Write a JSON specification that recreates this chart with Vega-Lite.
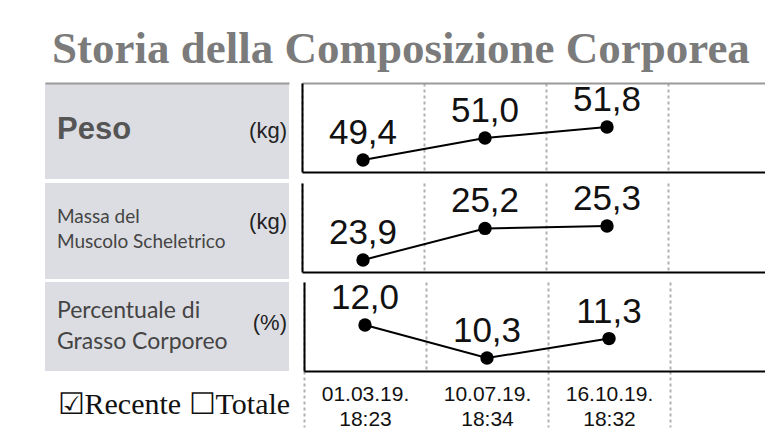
{
  "$schema": "https://vega.github.io/schema/vega-lite/v6.json",
  "padding": {"left": 45, "top": 26, "right": 0, "bottom": 0},
  "background": "#ffffff",
  "title": {
    "text": "Storia della Composizione Corporea",
    "anchor": "start",
    "font": "Liberation Serif",
    "fontWeight": "bold",
    "fontSize": 45,
    "color": "#7b7b7b",
    "dx": 7,
    "offset": 11
  },
  "config": {
    "view": {"stroke": null},
    "locale": {"number": {"decimal": ",", "thousands": ".", "grouping": [3], "currency": ["", " €"]}}
  },
  "datasets": {
    "misure": [
      {"metrica": "Peso", "data": "01.03.19. 18:23", "valore": 49.4},
      {"metrica": "Peso", "data": "10.07.19. 18:34", "valore": 51.0},
      {"metrica": "Peso", "data": "16.10.19. 18:32", "valore": 51.8},
      {"metrica": "Muscolo", "data": "01.03.19. 18:23", "valore": 23.9},
      {"metrica": "Muscolo", "data": "10.07.19. 18:34", "valore": 25.2},
      {"metrica": "Muscolo", "data": "16.10.19. 18:32", "valore": 25.3},
      {"metrica": "Grasso", "data": "01.03.19. 18:23", "valore": 12.0},
      {"metrica": "Grasso", "data": "10.07.19. 18:34", "valore": 10.3},
      {"metrica": "Grasso", "data": "16.10.19. 18:32", "valore": 11.3}
    ],
    "etichette": [
      {"metrica": "Peso", "parte": "nome", "testo": "Peso"},
      {"metrica": "Peso", "parte": "unita", "testo": "(kg)"},
      {"metrica": "Muscolo", "parte": "nome", "testo": "Massa del\nMuscolo Scheletrico"},
      {"metrica": "Muscolo", "parte": "unita", "testo": "(kg)"},
      {"metrica": "Grasso", "parte": "nome", "testo": "Percentuale di\nGrasso Corporeo"},
      {"metrica": "Grasso", "parte": "unita", "testo": "(%)"}
    ]
  },
  "spacing": 2,
  "vconcat": [
    {
      "spacing": 13,
      "hconcat": [
        {
          "width": 244, "height": 96,
          "view": {"fill": "#dcdde2", "stroke": null},
          "data": {"name": "etichette"},
          "transform": [{"filter": "datum.metrica === 'Peso'"}],
          "encoding": {
            "x": {"field": "parte", "type": "nominal", "scale": {"type": "point", "domain": ["nome", "unita"], "padding": 0},
              "axis": {"orient": "top", "domain": true, "domainColor": "#9a9a9a", "domainWidth": 2, "labels": false, "ticks": false, "grid": false, "title": null}},
            "text": {"field": "testo"}
          },
          "layer": [
            {
              "transform": [{"filter": "datum.parte === 'nome'"}],
              "mark": {"type": "text", "align": "left", "baseline": "middle", "dx": 12, "dy": -1, "font": "Liberation Sans", "fontWeight": "bold", "fontSize": 31, "color": "#555555"}
            },
            {
              "transform": [{"filter": "datum.parte === 'unita'"}],
              "mark": {"type": "text", "align": "right", "baseline": "middle", "dx": -2, "dy": 0, "font": "Liberation Sans", "fontSize": 22, "color": "#222222"}
            }
          ]
        },
        {
          "width": 463, "height": 89,
          "data": {"name": "misure"},
          "transform": [{"filter": "datum.metrica === 'Peso'"}],
          "encoding": {
            "y": {"field": "valore", "type": "quantitative", "scale": {"domain": [48.527, 55.0], "nice": false, "zero": false},
              "axis": {"domain": true, "domainColor": "#000000", "domainWidth": 2, "labels": false, "ticks": false, "grid": false, "title": null}}
          },
          "layer": [
            {
              "mark": {"type": "line", "color": "#000000", "strokeWidth": 2},
              "encoding": {
                "x": {"field": "data", "type": "nominal", "sort": null,
                  "scale": {"type": "band", "domain": ["01.03.19. 18:23", "10.07.19. 18:34", "16.10.19. 18:32"], "paddingInner": 0, "paddingOuter": 0.3975, "align": 0},
                  "axis": {"orient": "bottom", "domain": true, "domainColor": "#000000", "domainWidth": 2, "labels": false, "ticks": false, "grid": true, "tickBand": "extent", "gridColor": "#b0b0b0", "gridDash": [3, 3], "gridWidth": 2, "title": null}}
              }
            },
            {
              "mark": {"type": "point", "filled": true, "color": "#000000", "size": 180, "opacity": 1},
              "encoding": {
                "x": {"field": "data", "type": "nominal", "sort": null,
                  "axis": {"orient": "top", "domain": true, "domainColor": "#9a9a9a", "domainWidth": 2, "labels": false, "ticks": false, "grid": false, "title": null}}
              }
            },
            {
              "mark": {"type": "text", "baseline": "alphabetic", "dy": -16, "font": "Liberation Sans", "fontSize": 35, "color": "#111111"},
              "encoding": {
                "x": {"field": "data", "type": "nominal", "sort": null, "axis": null},
                "text": {"field": "valore", "type": "quantitative", "format": ".1f"}
              }
            }
          ],
          "resolve": {"axis": {"x": "independent"}}
        }
      ]
    },
    {
      "spacing": 13,
      "hconcat": [
        {
          "width": 244, "height": 96,
          "view": {"fill": "#dcdde2", "stroke": null},
          "data": {"name": "etichette"},
          "transform": [{"filter": "datum.metrica === 'Muscolo'"}],
          "encoding": {
            "x": {"field": "parte", "type": "nominal", "scale": {"type": "point", "domain": ["nome", "unita"], "padding": 0}, "axis": null},
            "text": {"field": "testo"}
          },
          "layer": [
            {
              "transform": [{"filter": "datum.parte === 'nome'"}],
              "mark": {"type": "text", "align": "left", "baseline": "middle", "dx": 12, "dy": -14, "font": "Lato", "fontSize": 19, "lineHeight": 25, "lineBreak": "\n", "color": "#444444"}
            },
            {
              "transform": [{"filter": "datum.parte === 'unita'"}],
              "mark": {"type": "text", "align": "right", "baseline": "middle", "dx": -2, "dy": -9, "font": "Liberation Sans", "fontSize": 22, "color": "#222222"}
            }
          ]
        },
        {
          "width": 463, "height": 89,
          "data": {"name": "misure"},
          "transform": [{"filter": "datum.metrica === 'Muscolo'"}],
          "encoding": {
            "x": {"field": "data", "type": "nominal", "sort": null,
              "scale": {"type": "band", "domain": ["01.03.19. 18:23", "10.07.19. 18:34", "16.10.19. 18:32"], "paddingInner": 0, "paddingOuter": 0.3975, "align": 0},
              "axis": {"orient": "bottom", "domain": true, "domainColor": "#000000", "domainWidth": 2, "labels": false, "ticks": false, "grid": true, "tickBand": "extent", "gridColor": "#b0b0b0", "gridDash": [3, 3], "gridWidth": 2, "title": null}},
            "y": {"field": "valore", "type": "quantitative", "scale": {"domain": [23.406, 27.069], "nice": false, "zero": false},
              "axis": {"domain": true, "domainColor": "#000000", "domainWidth": 2, "labels": false, "ticks": false, "grid": false, "title": null}}
          },
          "layer": [
            {"mark": {"type": "line", "color": "#000000", "strokeWidth": 2}},
            {"mark": {"type": "point", "filled": true, "color": "#000000", "size": 180, "opacity": 1}},
            {
              "mark": {"type": "text", "baseline": "alphabetic", "dy": -16, "font": "Liberation Sans", "fontSize": 35, "color": "#111111"},
              "encoding": {"text": {"field": "valore", "type": "quantitative", "format": ".1f"}}
            }
          ]
        }
      ]
    },
    {
      "spacing": 13,
      "hconcat": [
        {
          "width": 244, "height": 89,
          "view": {"fill": "#dcdde2", "stroke": null},
          "data": {"name": "etichette"},
          "transform": [{"filter": "datum.metrica === 'Grasso'"}],
          "encoding": {
            "x": {"field": "parte", "type": "nominal", "scale": {"type": "point", "domain": ["nome", "unita"], "padding": 0},
              "axis": {"orient": "bottom", "domain": false, "labels": false, "ticks": false, "grid": false,
                "title": "☑Recente ☐Totale", "titleFont": "Liberation Serif", "titleFontSize": 30, "titleFontWeight": "normal", "titleColor": "#111111",
                "titleAlign": "left", "titleAnchor": "start", "titleX": 12, "titlePadding": 18}},
            "text": {"field": "testo"}
          },
          "layer": [
            {
              "transform": [{"filter": "datum.parte === 'nome'"}],
              "mark": {"type": "text", "align": "left", "baseline": "middle", "dx": 12, "dy": -16, "font": "Lato", "fontSize": 23, "lineHeight": 31, "lineBreak": "\n", "color": "#444444"}
            },
            {
              "transform": [{"filter": "datum.parte === 'unita'"}],
              "mark": {"type": "text", "align": "right", "baseline": "middle", "dx": -2, "dy": -4, "font": "Liberation Sans", "fontSize": 22, "color": "#222222"}
            }
          ]
        },
        {
          "width": 463, "height": 89,
          "data": {"name": "misure"},
          "transform": [{"filter": "datum.metrica === 'Grasso'"}],
          "encoding": {
            "x": {"field": "data", "type": "nominal", "sort": null,
              "scale": {"type": "band", "domain": ["01.03.19. 18:23", "10.07.19. 18:34", "16.10.19. 18:32"], "paddingInner": 0, "paddingOuter": 0.3975, "align": 0},
              "axis": {"orient": "bottom", "domain": true, "domainColor": "#000000", "domainWidth": 2, "grid": true, "tickBand": "extent", "gridColor": "#b0b0b0", "gridDash": [3, 3], "gridWidth": 2, "title": null,
                "labels": true, "labelExpr": "split(datum.label, ' ')", "labelAngle": 0, "labelFont": "Liberation Sans", "labelFontSize": 21, "labelColor": "#111111", "labelLineHeight": 25, "labelBaseline": "top", "labelPadding": -44, "labelOverlap": false, "labelBound": false, "labelFlush": false,
                "ticks": true, "tickSize": 56, "tickColor": "#b0b0b0", "tickDash": [3, 3], "tickWidth": 2,
                "tickOpacity": {"condition": {"test": "datum.index == 0", "value": 0}, "value": 1}}},
            "y": {"field": "valore", "type": "quantitative", "scale": {"domain": [9.63, 14.218], "nice": false, "zero": false},
              "axis": {"domain": true, "domainColor": "#000000", "domainWidth": 2, "labels": false, "ticks": false, "grid": false, "title": null}}
          },
          "layer": [
            {"mark": {"type": "line", "color": "#000000", "strokeWidth": 2}},
            {"mark": {"type": "point", "filled": true, "color": "#000000", "size": 180, "opacity": 1}},
            {
              "mark": {"type": "text", "baseline": "alphabetic", "dy": -16, "font": "Liberation Sans", "fontSize": 35, "color": "#111111"},
              "encoding": {"text": {"field": "valore", "type": "quantitative", "format": ".1f"}}
            }
          ]
        }
      ]
    }
  ]
}
